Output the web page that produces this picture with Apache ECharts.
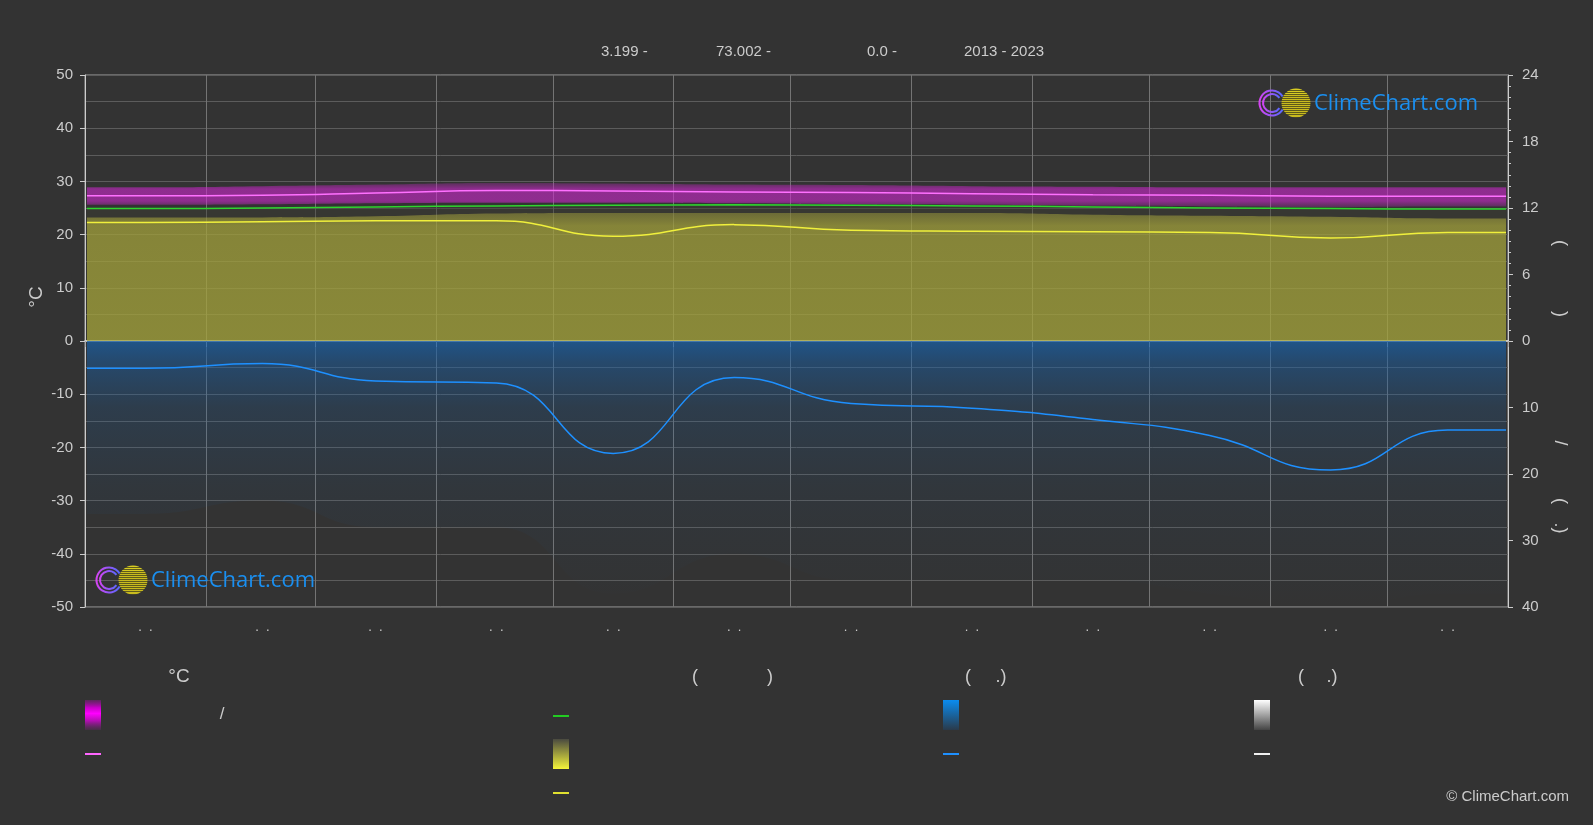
<!DOCTYPE html>
<html><head><meta charset="utf-8">
<script src="https://cdn.jsdelivr.net/npm/echarts@6/dist/echarts.min.js"></script>
<style>html,body{margin:0;padding:0;background:#333333;}#c{width:1593px;height:825px;}</style>
</head><body><div id="c"></div>
<script>
// ---------- data ----------
const titleParts = ['3.199 -', '73.002 -', '0.0 -', '2013 - 2023'];
const monthStarts = [0, 31, 59, 90, 120, 151, 181, 212, 243, 273, 304, 334];
const monthMid = [15, 45, 74, 105, 135, 166, 196, 227, 258, 288, 319, 349];
const monthLabels = ['.  .', '.  .', '.  .', '.  .', '.  .', '.  .', '.  .', '.  .', '.  .', '.  .', '.  .', '.  .'];
const tempTicksLeft = [50, 40, 30, 20, 10, 0, -10, -20, -30, -40, -50];
// temperature (°C)
const tempMean = [27.3, 27.4, 27.8, 28.3, 28.2, 28.0, 27.9, 27.7, 27.5, 27.4, 27.2, 27.2];
const tempLow  = [25.6, 25.7, 25.9, 26.0, 26.0, 25.9, 25.7, 25.6, 25.4, 25.3, 25.2, 25.3];
const tempHigh = [28.9, 29.1, 29.4, 29.7, 29.6, 29.4, 29.3, 29.1, 29.0, 28.9, 28.9, 28.9];
// hours
const daylightHours = [11.95, 12.0, 12.1, 12.19, 12.24, 12.29, 12.24, 12.19, 12.1, 12.0, 11.95, 11.9];
const sunshineHours = [10.7, 10.75, 10.85, 10.85, 9.45, 10.5, 10.0, 9.9, 9.85, 9.8, 9.3, 9.8];
const sunshineDailyTop = [11.15, 11.15, 11.25, 11.5, 11.55, 11.55, 11.55, 11.55, 11.4, 11.3, 11.2, 11.05];
// precipitation (mm)
const precipMm = [4.1, 3.4, 6.0, 6.3, 16.9, 5.5, 9.4, 10.1, 11.8, 14.2, 19.4, 13.4];
const precipDailyDepth = [26, 24, 28, 28, 38, 32, 36, 36, 36, 38, 40, 38];

// ---------- build ----------
const days = [];
for (let i = 0; i < 365; i++) days.push(String(i + 1));
function monthly(arr) {
  const out = [[0, arr[0]]];
  arr.forEach((v, i) => out.push([monthMid[i], v]));
  out.push([364, arr[arr.length - 1]]);
  return out;
}
const bandWidth = tempHigh.map((v, i) => +(v - tempLow[i]).toFixed(2));

const FONT = '"Liberation Sans", Arial, sans-serif';
const LBL = '#cccccc';
const grad = (stops) => ({type: 'linear', x: 0, y: 0, x2: 0, y2: 1, colorStops: stops});

function xAxisDef(grid, bottom) {
  return {
    type: 'category', gridIndex: grid, data: days, boundaryGap: true,
    axisLine: {show: true, lineStyle: {color: bottom ? '#bbbbbb' : '#dddddd', width: bottom ? 1 : 1.5}},
    axisTick: {show: bottom, length: 6, interval: (idx) => monthStarts.includes(idx), lineStyle: {color: '#aaaaaa'}},
    axisLabel: {show: bottom, color: LBL, fontSize: 13, fontFamily: FONT, margin: 14,
      interval: (idx) => monthMid.includes(idx),
      formatter: (v, idx) => { const k = monthMid.indexOf(idx); return k >= 0 ? monthLabels[k] : ''; }},
    splitLine: {show: true, interval: (idx) => monthStarts.includes(idx), lineStyle: {color: '#747474', width: 1}}
  };
}
const split = {show: true, lineStyle: {color: '#5c5c5c', width: 1}};

function logo(cx, cy) {
  const stripes = [];
  const n = 14;
  for (let k = 0; k < n; k++) {
    const a = k / n, b = (k + 0.55) / n;
    const c = k < 3 ? '#d8cc22' : '#c9bb1e';
    stripes.push({offset: a, color: c}, {offset: b, color: c}, {offset: b, color: '#5e5a1c'}, {offset: (k + 1) / n, color: '#5e5a1c'});
  }
  const ringGrad = {type: 'linear', x: 0, y: 0, x2: 1, y2: 0, colorStops: [{offset: 0, color: '#e040f0'}, {offset: 1, color: '#4a6cff'}]};
  return [
    {type: 'arc', shape: {cx: cx, cy: cy, r: 12.5, startAngle: 0.55, endAngle: Math.PI * 2 - 0.55}, style: {fill: 'none', stroke: ringGrad, lineWidth: 2}, z: 100},
    {type: 'arc', shape: {cx: cx, cy: cy, r: 9, startAngle: 0.6, endAngle: Math.PI * 2 - 0.6}, style: {fill: 'none', stroke: ringGrad, lineWidth: 2}, z: 100},
    {type: 'circle', shape: {cx: cx + 24, cy: cy, r: 14.5}, style: {fill: grad(stripes)}, z: 101},
    {type: 'text', x: cx + 42, y: cy + 1, z: 101, style: {text: 'ClimeChart.com', fill: '#1a8ff0', font: '22px "Open Sans", sans-serif', textAlign: 'left', textVerticalAlign: 'middle'}}
  ];
}
function txt(text, x, y, size, opts) {
  return Object.assign({type: 'text', x: x, y: y, z: 100,
    style: {text: text, fill: LBL, font: size + 'px ' + FONT, textAlign: 'center', textVerticalAlign: 'middle'}}, opts || {});
}
function ltxt(text, x, y, size) {
  return {type: 'text', x: x, y: y, z: 100, style: {text: text, fill: LBL, font: size + 'px ' + FONT, textAlign: 'left', textVerticalAlign: 'middle'}};
}
function box(x, y, w, h, fill) { return {type: 'rect', shape: {x: x, y: y, width: w, height: h}, style: {fill: fill}, z: 100}; }

const graphics = [
  ltxt(titleParts[0], 601, 52, 15),
  ltxt(titleParts[1], 716, 52, 15),
  ltxt(titleParts[2], 867, 52, 15),
  ltxt(titleParts[3], 964, 52, 15),
  // axis names
  txt('°C', 37, 297, 19, {rotation: Math.PI / 2}),
  txt('(', 1560, 243, 18, {rotation: -Math.PI / 2}),
  txt(')', 1560, 314, 18, {rotation: -Math.PI / 2}),
  txt('/', 1560, 443, 18, {rotation: -Math.PI / 2}),
  txt('(', 1560, 501, 18, {rotation: -Math.PI / 2}),
  txt('.)', 1560, 528, 18, {rotation: -Math.PI / 2}),
  // legend headers
  txt('°C', 179, 677, 19),
  txt('(', 695, 677, 18), txt(')', 770, 677, 18),
  txt('(', 968, 677, 18), txt('.)', 1001, 677, 18),
  txt('(', 1301, 677, 18), txt('.)', 1332, 677, 18),
  txt('/', 222, 714, 17),
  // legend symbols
  box(85, 700, 16, 30, grad([{offset: 0, color: 'rgba(120,30,120,0.6)'}, {offset: 0.25, color: '#c800c8'}, {offset: 0.45, color: '#ff00ff'}, {offset: 0.7, color: '#b010b0'}, {offset: 1, color: 'rgba(90,40,90,0.5)'}])),
  box(85, 753, 16, 2, '#ff66ff'),
  box(553, 715, 16, 2, '#22cc22'),
  box(553, 739, 16, 30, grad([{offset: 0, color: '#4a4a40'}, {offset: 1, color: '#f5f53a'}])),
  box(553, 792, 16, 2, '#e0e030'),
  box(943, 700, 16, 30, grad([{offset: 0, color: '#0a8cf0'}, {offset: 1, color: '#2a3a4a'}])),
  box(943, 753, 16, 2, '#1e90ff'),
  box(1254, 700, 16, 30, grad([{offset: 0, color: '#ffffff'}, {offset: 1, color: '#444444'}])),
  box(1254, 753, 16, 2, '#f0f0f0'),
  {type: 'text', x: 1569, y: 797, z: 100, style: {text: '© ClimeChart.com', fill: LBL, font: '15px ' + FONT, textAlign: 'right', textVerticalAlign: 'middle'}}
].concat(logo(1272, 103)).concat(logo(109, 580));

const lineBase = {type: 'line', smooth: true, showSymbol: false, silent: true};

const option = {
  backgroundColor: '#333333',
  animation: false,
  textStyle: {fontFamily: FONT},
  grid: [
    {left: 85, right: 85, top: 75, height: 266, show: true, borderColor: '#a0a0a0', borderWidth: 1},
    {left: 85, right: 85, top: 341, height: 266, show: true, borderColor: '#a0a0a0', borderWidth: 1}
  ],
  xAxis: [xAxisDef(0, false), xAxisDef(1, true)],
  yAxis: [
    {type: 'value', gridIndex: 0, position: 'left', min: 0, max: 50, interval: 10,
      axisLine: {show: true, lineStyle: {color: '#cccccc'}}, axisTick: {show: true, length: 5, lineStyle: {color: '#cccccc'}},
      axisLabel: {color: LBL, fontSize: 15, margin: 12, formatter: (v) => tempTicksLeft.includes(v) ? String(v) : ''},
      splitLine: split, minorTick: {show: false, splitNumber: 2}, minorSplitLine: split},
    {type: 'value', gridIndex: 0, position: 'right', min: 0, max: 24, interval: 6,
      axisLine: {show: true, lineStyle: {color: '#cccccc'}}, axisTick: {show: true, length: 5, lineStyle: {color: '#cccccc'}},
      minorTick: {show: true, splitNumber: 6, length: 3, lineStyle: {color: '#cccccc'}},
      axisLabel: {color: LBL, fontSize: 15, margin: 14}, splitLine: {show: false}},
    {type: 'value', gridIndex: 1, position: 'left', min: -50, max: 0, interval: 10,
      axisLine: {show: true, lineStyle: {color: '#cccccc'}}, axisTick: {show: true, length: 5, lineStyle: {color: '#cccccc'}},
      axisLabel: {color: LBL, fontSize: 15, margin: 12, formatter: (v) => v === 0 ? '' : String(v)},
      splitLine: split, minorTick: {show: false, splitNumber: 2}, minorSplitLine: split},
    {type: 'value', gridIndex: 1, position: 'right', min: 0, max: 40, interval: 10, inverse: true,
      axisLine: {show: true, lineStyle: {color: '#cccccc'}}, axisTick: {show: true, length: 5, lineStyle: {color: '#cccccc'}},
      axisLabel: {color: LBL, fontSize: 15, margin: 14, formatter: (v) => v === 0 ? '' : String(v)},
      splitLine: {show: false}}
  ],
  graphic: {elements: graphics},
  series: [
    Object.assign({}, lineBase, {name: 'daylight band', xAxisIndex: 0, yAxisIndex: 1, data: monthly(daylightHours), z: 1,
      lineStyle: {width: 0}, areaStyle: {opacity: 1, color: 'rgba(60,60,48,0.45)'}}),
    Object.assign({}, lineBase, {name: 'sunshine daily', xAxisIndex: 0, yAxisIndex: 1, data: monthly(sunshineDailyTop), z: 2,
      lineStyle: {width: 0}, areaStyle: {opacity: 1, color: grad([{offset: 0, color: 'rgba(160,158,60,0.5)'}, {offset: 0.1, color: 'rgba(200,198,62,0.54)'}, {offset: 1, color: 'rgba(205,204,62,0.55)'}])}}),
    Object.assign({}, lineBase, {name: 'temp low', xAxisIndex: 0, yAxisIndex: 0, stack: 'temp', data: monthly(tempLow), z: 3,
      lineStyle: {width: 0}}),
    Object.assign({}, lineBase, {name: 'temp range', xAxisIndex: 0, yAxisIndex: 0, stack: 'temp', data: monthly(bandWidth), z: 3,
      lineStyle: {width: 0}, areaStyle: {opacity: 1, color: grad([{offset: 0, color: 'rgba(190,40,190,0.28)'}, {offset: 0.25, color: 'rgba(205,40,205,0.6)'}, {offset: 0.75, color: 'rgba(205,40,205,0.6)'}, {offset: 1, color: 'rgba(190,40,190,0.28)'}])}}),
    Object.assign({}, lineBase, {name: 'precip daily', xAxisIndex: 1, yAxisIndex: 3, data: monthly(precipDailyDepth), z: 2,
      lineStyle: {width: 0}, areaStyle: {opacity: 1, color: grad([{offset: 0, color: 'rgba(25,95,165,0.75)'}, {offset: 0.08, color: 'rgba(25,95,165,0.5)'}, {offset: 0.25, color: 'rgba(25,95,165,0.22)'}, {offset: 0.55, color: 'rgba(25,95,165,0.08)'}, {offset: 1, color: 'rgba(25,95,165,0.0)'}])}}),
    Object.assign({}, lineBase, {name: 'daylight', xAxisIndex: 0, yAxisIndex: 1, data: monthly(daylightHours), z: 5,
      lineStyle: {color: '#2fd42f', width: 1.5}}),
    Object.assign({}, lineBase, {name: 'sunshine', xAxisIndex: 0, yAxisIndex: 1, data: monthly(sunshineHours), z: 5,
      lineStyle: {color: '#f0f03c', width: 1.5}}),
    Object.assign({}, lineBase, {name: 'temp mean', xAxisIndex: 0, yAxisIndex: 0, data: monthly(tempMean), z: 5,
      lineStyle: {color: '#ff70ff', width: 1.5}}),
    Object.assign({}, lineBase, {name: 'precip', xAxisIndex: 1, yAxisIndex: 3, data: monthly(precipMm), z: 5,
      lineStyle: {color: '#1e90ff', width: 1.5}})
  ]
};
const chart = echarts.init(document.getElementById('c'), null, {renderer: 'canvas'});
chart.setOption(option);
</script></body></html>
